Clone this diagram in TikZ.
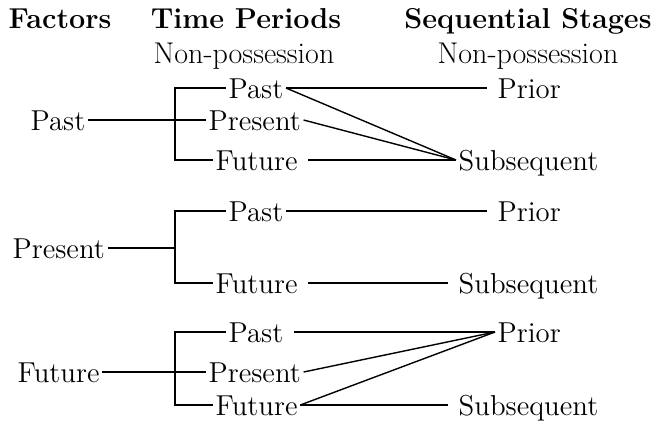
\documentclass[tikz,border=0pt]{standalone}
\usepackage{tikz}
\usetikzlibrary{calc,positioning}
\tikzstyle{word}=[inner sep=1pt,text height=10pt,text depth=0pt,font=\fontsize{14.4}{17}\selectfont]
\tikzstyle{head}=[word,font=\fontsize{14.4}{17}\selectfont\bfseries]
\tikzstyle{sub}=[word,font=\fontsize{15}{18}\selectfont]
\tikzstyle{gap}=[shorten >=4pt]
\tikzstyle{lead}=[shorten <=4pt]

\begin{document}
\begin{tikzpicture}[x=0.5pt,y=-0.5pt,line width=0.7pt]
\useasboundingbox (0,0) rectangle (659,420);
\node [head] (hf) at (60,18) {Factors};
\node [head] (ht) at (246,18) {Time Periods};
\node [sub] (htn) at (244,53) {Non-possession};
\node [head] (hs) at (528,18) {Sequential Stages};
\node [sub] (hsn) at (528,53) {Non-possession};

\node [word,anchor=west] (f1) at (28,120) {Past};
\node [word,anchor=west] (t1a) at (226,88) {Past};
\node [word,anchor=west] (t1b) at (206,120) {Present};
\node [word,anchor=west] (t1c) at (213,160) {Future};
\node [word,anchor=west] (s1a) at (495,88) {Prior};
\node [word,anchor=west] (s1b) at (456,160) {Subsequent};
\coordinate (b1) at (175,120);
\draw (f1) -- (b1);
\draw (t1a.west) -| (b1) |- (t1c.west);
\draw (b1) -- (t1b);
\draw [gap] (t1a) -- (s1a);
\draw (t1a.east) -- (s1b.west);
\draw (t1b.east) -- (s1b.west);
\draw [lead] (t1c) -- (s1b);

\node [word,anchor=west] (f2) at (10,248) {Present};
\node [word,anchor=west] (t2a) at (226,211) {Past};
\node [word,anchor=west] (t2b) at (213,283) {Future};
\node [word,anchor=west] (s2a) at (495,211) {Prior};
\node [word,anchor=west] (s2b) at (456,283) {Subsequent};
\coordinate (b2) at (175,248);
\draw (f2) -- (b2);
\draw (t2a.west) -| (b2) |- (t2b.west);
\draw [gap] (t2a) -- (s2a);
\draw [gap,lead] (t2b) -- (s2b);

\node [word,anchor=west] (f3) at (15,372) {Future};
\node [word,anchor=west] (t3a) at (226,332) {Past};
\node [word,anchor=west] (t3b) at (206,372) {Present};
\node [word,anchor=west] (t3c) at (213,405) {Future};
\node [word,anchor=west] (s3a) at (495,332) {Prior};
\node [word,anchor=west] (s3b) at (456,405) {Subsequent};
\coordinate (b3) at (175,372);
\draw (f3) -- (b3);
\draw (t3a.west) -| (b3) |- (t3c.west);
\draw (b3) -- (t3b);
\draw [lead] (t3a) -- (s3a);
\draw (t3b.east) -- (s3a.west);
\draw (t3c.east) -- (s3a.west);
\draw [gap] (t3c) -- (s3b);
\end{tikzpicture}
\end{document}
